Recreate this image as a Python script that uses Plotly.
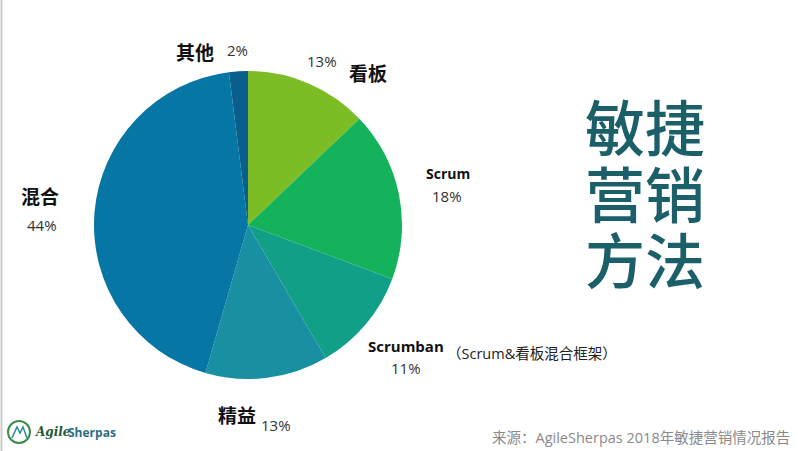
import plotly.graph_objects as go

W, H = 798, 451

categories = ["看板", "Scrum", "Scrumban", "精益", "混合", "其他"]
values = [13, 18, 11, 13, 44, 2]
pct_labels = ["13%", "18%", "11%", "13%", "44%", "2%"]
colors = ["#7cbd26", "#14b25b", "#11a087", "#1890a2", "#0676a4", "#085f8c"]
title_lines = ["敏捷", "营销", "方法"]
source_text = "来源：AgileSherpas 2018年敏捷营销情况报告"
scrumban_note = "（Scrum&看板混合框架）"

CJK = "Noto Sans CJK SC"
LAT = "Open Sans, Noto Sans CJK SC"

def px(x, y):
    return x / W, 1 - y / H

fig = go.Figure()
fig.add_trace(go.Pie(
    labels=categories, values=values, sort=False, direction="clockwise",
    rotation=0, marker=dict(colors=colors, line=dict(width=0)),
    textinfo="none", hoverinfo="label+percent", showlegend=False,
    domain=dict(x=[93 / W, 403 / W], y=[1 - 379 / H, 1 - 71 / H]),
))

ann = []
def add(text, x, y, size, color="#111", bold=False, family=CJK, xanchor="center", weight=None):
    ax, ay = px(x, y)
    t = f"<b>{text}</b>" if bold else text
    f = dict(size=size, color=color, family=family)
    if weight:
        f["weight"] = weight
    ann.append(dict(text=t, x=ax, y=ay, xref="paper", yref="paper", showarrow=False,
                    xanchor=xanchor, yanchor="middle", font=f))

# category labels and percentages
add(categories[5], 195, 52, 19, bold=True)
add(pct_labels[5], 237, 50, 15, color="#333", family=LAT)
add(pct_labels[0], 322, 61, 15, color="#333", family=LAT)
add(categories[0], 368, 72, 19, bold=True)
add(categories[1], 448, 174, 14, bold=True, family=LAT)
add(pct_labels[1], 447, 196, 15, color="#333", family=LAT)
add(categories[2], 406, 346, 15, bold=True, family=LAT)
add(scrumban_note, 445, 353, 14.5, color="#222", family=LAT, xanchor="left")
add(pct_labels[2], 406, 368, 15, color="#333", family=LAT)
add(categories[3], 237, 414, 19, bold=True)
add(pct_labels[3], 276, 425, 15, color="#333", family=LAT)
add(categories[4], 40, 195, 19, bold=True)
add(pct_labels[4], 42, 225, 15, color="#333", family=LAT)

# big vertical title
for i, line in enumerate(title_lines):
    add(line, 645, 125 + i * 66, 60, color="#1b5f69", weight=500)

# source
add(source_text, 792, 437, 14.5, color="#8a8a8a", family=LAT, xanchor="right")

# logo
add("<i><b>Agile</b></i>", 33, 432, 12, color="#1f5a3a", family="DejaVu Serif", xanchor="left")
add("<b>Sherpas</b>", 66, 432, 12, color="#2a6e80", family=LAT, xanchor="left")

shapes = [
    dict(type="circle", xref="paper", yref="paper",
         x0=8 / W, x1=30 / W, y0=1 - 443 / H, y1=1 - 421 / H,
         line=dict(color="#3d8a4a", width=2)),
    dict(type="path", xref="paper", yref="paper",
         path=f"M {12/W},{1-438/H} L {17/W},{1-427/H} L {20/W},{1-433/H} L {23/W},{1-427/H} L {27/W},{1-438/H}",
         line=dict(color="#2a8a9a", width=1.5)),
    dict(type="line", xref="paper", yref="paper", x0=1.5 / W, x1=1.5 / W, y0=0, y1=1,
         line=dict(color="#cccccc", width=2)),
]

fig.update_layout(
    width=W, height=H, margin=dict(l=0, r=0, t=0, b=0),
    paper_bgcolor="white", plot_bgcolor="white",
    annotations=ann, shapes=shapes,
)
fig.write_html("out.html", config={"displayModeBar": False},
               post_script="document.body.style.margin='0';")
